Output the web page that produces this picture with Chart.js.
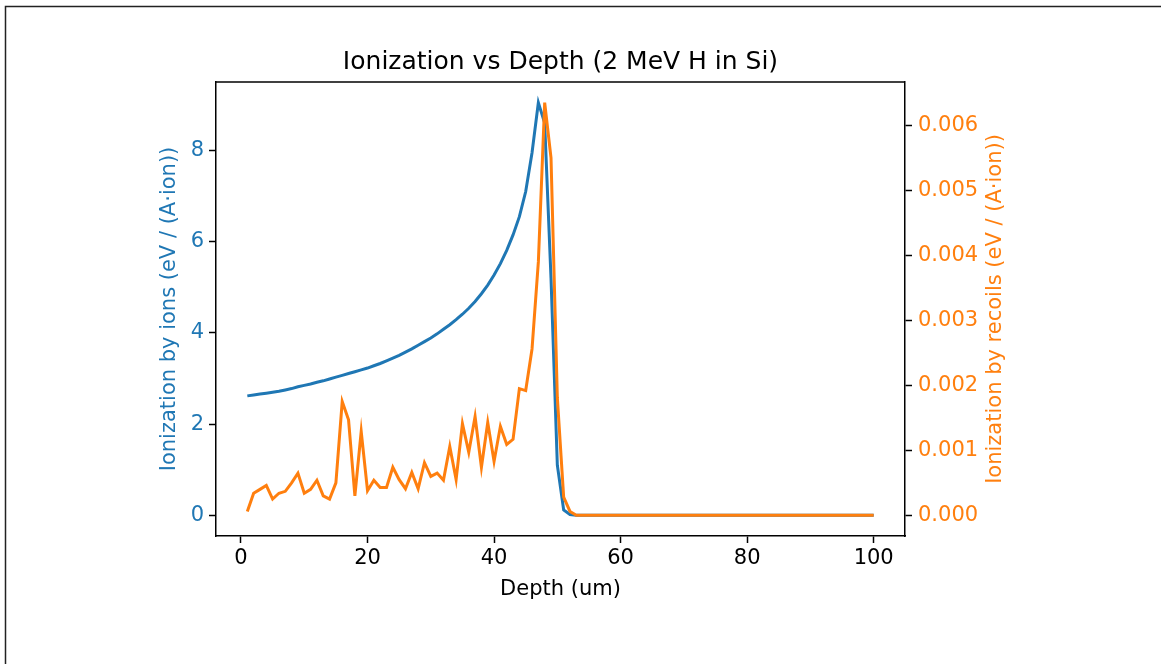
<!DOCTYPE html>
<html>
<head>
<meta charset="utf-8">
<title>Ionization vs Depth</title>
<script src="https://cdn.jsdelivr.net/npm/chart.js@4.4.1/dist/chart.umd.min.js"></script>
<style>
  body { margin: 0; background: #fff; }
  #wrap { width: 1161px; height: 664px; position: relative; }
</style>
</head>
<body>
<div id="wrap"><canvas id="myChart"></canvas></div>
<script>
// depth in um, one row per bin
const depth = [
    1, 2, 3, 4, 5, 6, 7, 8, 9, 10, 11, 12, 13, 14, 15, 16, 17, 18, 19, 20,
    21, 22, 23, 24, 25, 26, 27, 28, 29, 30, 31, 32, 33, 34, 35, 36, 37, 38, 39, 40,
    41, 42, 43, 44, 45, 46, 47, 48, 49, 50, 51, 52, 53, 54, 55, 56, 57, 58, 59, 60,
    61, 62, 63, 64, 65, 66, 67, 68, 69, 70, 71, 72, 73, 74, 75, 76, 77, 78, 79, 80,
    81, 82, 83, 84, 85, 86, 87, 88, 89, 90, 91, 92, 93, 94, 95, 96, 97, 98, 99, 100
];

const ionIonization = [
    2.62, 2.64, 2.66, 2.68, 2.70, 2.72, 2.75, 2.78, 2.82, 2.85,
    2.88, 2.92, 2.95, 2.99, 3.03, 3.07, 3.11, 3.15, 3.19, 3.23,
    3.28, 3.33, 3.39, 3.45, 3.51, 3.58, 3.65, 3.73, 3.81, 3.89,
    3.98, 4.08, 4.18, 4.29, 4.41, 4.54, 4.69, 4.86, 5.05, 5.27,
    5.52, 5.81, 6.15, 6.55, 7.10, 7.95, 9.05, 8.60, 5.20, 1.10,
    0.12, 0.02, 0, 0, 0, 0, 0, 0, 0, 0,
    0, 0, 0, 0, 0, 0, 0, 0, 0, 0,
    0, 0, 0, 0, 0, 0, 0, 0, 0, 0,
    0, 0, 0, 0, 0, 0, 0, 0, 0, 0,
    0, 0, 0, 0, 0, 0, 0, 0, 0, 0
];

const recoilIonization = [
    0.00006, 0.00034, 0.00040, 0.00046, 0.00025, 0.00034, 0.00037, 0.00050, 0.00065, 0.00034,
    0.00040, 0.00054, 0.00030, 0.00025, 0.00050, 0.00175, 0.00147, 0.00030, 0.00129, 0.00038,
    0.00054, 0.00043, 0.00043, 0.00074, 0.00055, 0.00041, 0.00066, 0.00041, 0.00081, 0.00060,
    0.00065, 0.00054, 0.00106, 0.00055, 0.00141, 0.00097, 0.00152, 0.00074, 0.00143, 0.00083,
    0.00137, 0.00109, 0.00117, 0.00195, 0.00192, 0.00256, 0.00390, 0.00635, 0.00550, 0.00181,
    0.00028, 0.00006, 0, 0, 0, 0, 0, 0, 0, 0,
    0, 0, 0, 0, 0, 0, 0, 0, 0, 0,
    0, 0, 0, 0, 0, 0, 0, 0, 0, 0,
    0, 0, 0, 0, 0, 0, 0, 0, 0, 0,
    0, 0, 0, 0, 0, 0, 0, 0, 0, 0
];

const xTicks = [0, 20, 40, 60, 80, 100];
const ionTicks = [0, 2, 4, 6, 8];
const recoilTicks = [0, 0.001, 0.002, 0.003, 0.004, 0.005, 0.006];

const TITLE = 'Ionization vs Depth (2 MeV H in Si)';
const BLUE = '#1f77b4';
const ORANGE = '#ff7f0e';
const FONT = "'DejaVu Sans', sans-serif";

Chart.defaults.font.family = FONT;

// matplotlib style 5% margins
function padRange(values) {
    const lo = Math.min(...values), hi = Math.max(...values);
    const m = (hi - lo) * 0.05;
    return { min: lo - m, max: hi + m };
}
const xRange = padRange(depth);
const ionRange = padRange(ionIonization);
const recoilRange = padRange(recoilIonization);

const frameAndSpines = {
    id: 'frameAndSpines',
    beforeDraw(chart) {
        const ctx = chart.ctx;
        ctx.save();
        ctx.fillStyle = '#fff';
        ctx.fillRect(0, 0, chart.width, chart.height);
        ctx.strokeStyle = '#222';
        ctx.lineWidth = 1.5;
        ctx.beginPath();
        ctx.moveTo(5.5, chart.height + 5);
        ctx.lineTo(5.5, 6.5);
        ctx.lineTo(chart.width + 5, 6.5);
        ctx.stroke();
        ctx.restore();
    },
    afterDraw(chart) {
        const ctx = chart.ctx;
        const a = chart.chartArea;
        const midX = (a.left + a.right) / 2;
        ctx.save();
        // top spine
        ctx.strokeStyle = '#000';
        ctx.lineWidth = 1.5;
        ctx.beginPath();
        ctx.moveTo(a.left, a.top);
        ctx.lineTo(a.right, a.top);
        ctx.stroke();
        // title centred over the axes, not the canvas
        ctx.fillStyle = '#000';
        ctx.font = '25px ' + FONT;
        ctx.textAlign = 'center';
        ctx.textBaseline = 'middle';
        ctx.fillText(TITLE, midX, 62);
        // right axis label, reads bottom to top like matplotlib
        ctx.translate(996, (a.top + a.bottom) / 2);
        ctx.rotate(-Math.PI / 2);
        ctx.fillStyle = ORANGE;
        ctx.font = '21px ' + FONT;
        ctx.fillText('Ionization by recoils (eV / (A\u00b7ion))', 0, 0);
        ctx.restore();
    }
};

const tickGrid = {
    display: true,
    drawOnChartArea: false,
    drawTicks: true,
    tickLength: 7,
    tickWidth: 1.5,
    color: '#000'
};
const spine = { display: true, color: '#000', width: 1.5 };

const ctx = document.getElementById('myChart');
const myChart = new Chart(ctx, {
    type: 'line',
    data: {
        datasets: [
            {
                label: 'ions',
                data: depth.map((d, i) => ({ x: d, y: ionIonization[i] })),
                borderColor: BLUE,
                borderWidth: 3,
                pointRadius: 0,
                tension: 0,
                yAxisID: 'y',
                order: 2
            },
            {
                label: 'recoils',
                data: depth.map((d, i) => ({ x: d, y: recoilIonization[i] })),
                borderColor: ORANGE,
                borderWidth: 3,
                pointRadius: 0,
                tension: 0,
                yAxisID: 'y2',
                order: 1
            }
        ]
    },
    options: {
        animation: false,
        responsive: true,
        maintainAspectRatio: false,
        devicePixelRatio: 1,
        layout: { padding: { top: 82, left: 0, right: 0, bottom: 0 } },
        plugins: {
            legend: { display: false },
            tooltip: { enabled: false },
            title: { display: false }
        },
        scales: {
            x: {
                type: 'linear',
                position: 'bottom',
                min: xRange.min,
                max: xRange.max,
                afterBuildTicks: s => { s.ticks = xTicks.map(v => ({ value: v })); },
                afterFit: s => { s.height = 128; },
                ticks: { color: '#000', font: { size: 21 }, padding: 3, maxRotation: 0, autoSkip: false },
                grid: tickGrid,
                border: spine,
                title: {
                    display: true,
                    text: 'Depth (um)',
                    color: '#000',
                    font: { size: 21 },
                    padding: { top: 0, bottom: 62 }
                }
            },
            y: {
                type: 'linear',
                position: 'left',
                min: ionRange.min,
                max: ionRange.max,
                afterBuildTicks: s => { s.ticks = ionTicks.map(v => ({ value: v })); },
                afterFit: s => { s.width = 216; },
                ticks: { color: BLUE, font: { size: 21 }, padding: 5, autoSkip: false },
                grid: tickGrid,
                border: spine,
                title: {
                    display: true,
                    text: 'Ionization by ions (eV / (A\u00b7ion))',
                    color: BLUE,
                    font: { size: 21 },
                    padding: { top: 157, bottom: 0 }
                }
            },
            y2: {
                type: 'linear',
                position: 'right',
                min: recoilRange.min,
                max: recoilRange.max,
                afterBuildTicks: s => { s.ticks = recoilTicks.map(v => ({ value: v })); },
                afterFit: s => { s.width = 256; },
                ticks: {
                    color: ORANGE,
                    font: { size: 21 },
                    padding: 6,
                    autoSkip: false,
                    callback: v => v.toFixed(3)
                },
                grid: tickGrid,
                border: spine
            }
        }
    },
    plugins: [frameAndSpines]
});
</script>
</body>
</html>
